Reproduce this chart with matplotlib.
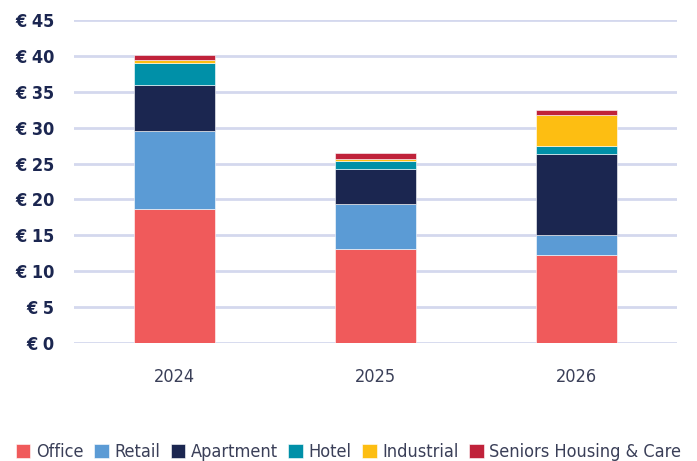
import matplotlib
matplotlib.use("Agg")
import matplotlib.pyplot as plt
import numpy as np

years = ["2024", "2025", "2026"]
series_names = ["Office", "Retail", "Apartment", "Hotel", "Industrial", "Seniors Housing & Care"]
office = [18.7, 13.1, 12.2]
retail = [10.8, 6.3, 2.9]
apartment = [6.5, 4.9, 11.2]
hotel = [3.0, 1.1, 1.1]
industrial = [0.4, 0.3, 4.3]
seniors = [0.7, 0.8, 0.8]
colors = ["#F05A5B", "#5B9BD5", "#1B2650", "#0090A8", "#FDBE12", "#C0223A"]
yticks = [0, 5, 10, 15, 20, 25, 30, 35, 40, 45]
ytick_labels = ["€ %d" % v for v in yticks]

text_color = "#1B2650"
plt.rcParams['font.family'] = ['DejaVu Sans']
plt.rcParams['font.stretch'] = 'condensed'

fig = plt.figure(figsize=(6.97, 4.61), dpi=100)
ax = fig.add_axes([74/697, 1-343/461, (677-74)/697, (343-20)/461])

x = np.arange(len(years))
bottom = np.zeros(len(years))
data = [office, retail, apartment, hotel, industrial, seniors]
handles = []
for name, vals, c in zip(series_names, data, colors):
    h = ax.bar(x, vals, 0.4, bottom=bottom, color=c, label=name, zorder=3,
               edgecolor="white", linewidth=0.4)
    handles.append(h)
    bottom += np.array(vals)

ax.set_xlim(-0.5, 2.5)
ax.set_ylim(0, 45)
ax.set_yticks(yticks)
ax.set_yticklabels(ytick_labels)
ax.set_xticks(x)
ax.set_xticklabels(years)
ax.grid(axis="y", color="#D4D8EE", linewidth=2, zorder=0)
for s in ax.spines.values():
    s.set_visible(False)
ax.tick_params(axis="both", length=0, colors=text_color, labelsize=13)
ax.tick_params(axis="y", pad=14)
ax.tick_params(axis="x", pad=18)
for lbl in ax.get_yticklabels():
    lbl.set_fontweight("semibold")
for lbl in ax.get_xticklabels():
    lbl.set_color("#3A3F58")

leg = fig.legend(handles=handles, labels=series_names, loc="lower center",
                 bbox_to_anchor=(0.5, -0.035), ncol=6, frameon=False,
                 fontsize=13, handlelength=0.8, handleheight=0.8,
                 handletextpad=0.3, columnspacing=0.6, labelcolor="#3A3F58")

fig.savefig("out.png", dpi=100)
